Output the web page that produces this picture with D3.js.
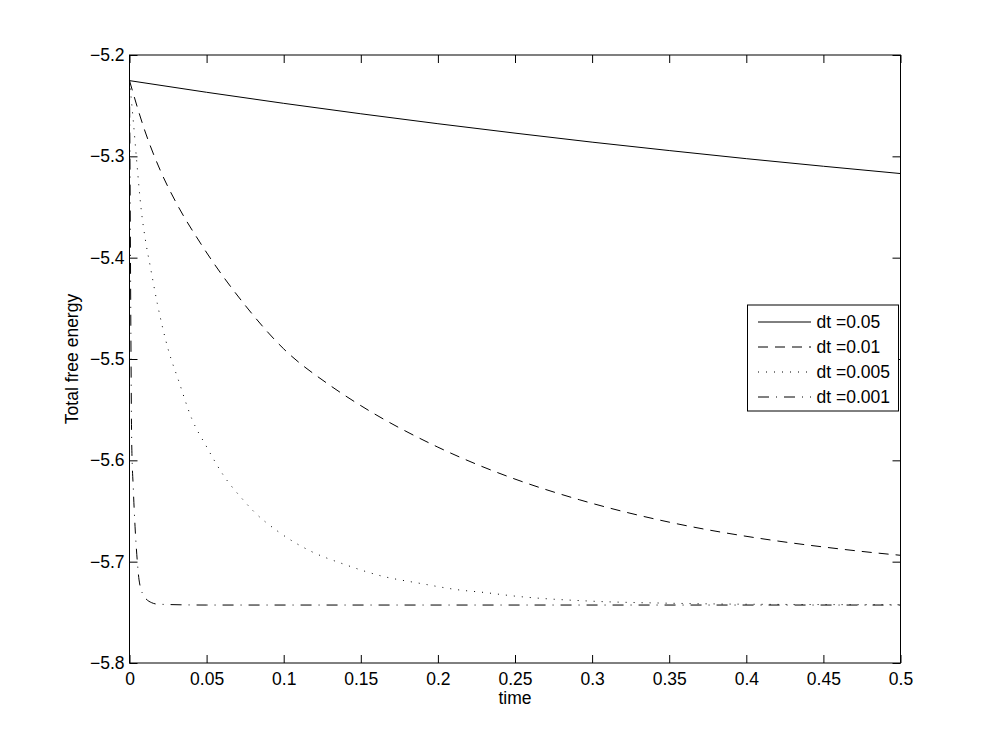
<!DOCTYPE html>
<html>
<head>
<meta charset="utf-8">
<script src="https://cdn.jsdelivr.net/npm/d3@7"></script>
<style>
  body { margin: 0; background: #fff; }
  text { font-family: "Liberation Sans", Arial, sans-serif; }
</style>
</head>
<body>
<div id="chart"></div>
<script>
// values
var t_dt05 = [0, 0.05, 0.1, 0.15, 0.2, 0.25, 0.3, 0.35, 0.4, 0.45, 0.5];
var e_dt05 = [-5.2253, -5.2368, -5.2477, -5.2580, -5.2678, -5.2771, -5.2860, -5.2943, -5.3023, -5.3098, -5.3170];

var t_dt01 = [0, 0.01, 0.02, 0.03, 0.047, 0.075, 0.1, 0.13, 0.15, 0.2, 0.228, 0.25, 0.292, 0.35, 0.4175, 0.45, 0.485, 0.5];
var e_dt01 = [-5.2253, -5.275, -5.314, -5.345, -5.388, -5.447, -5.490, -5.526, -5.546, -5.587, -5.6057, -5.6185, -5.639, -5.661, -5.679, -5.6855, -5.6915, -5.6937];

var t_dt005 = [0, 0.0025, 0.0047, 0.0075, 0.0105, 0.0133, 0.018, 0.0252, 0.0317, 0.0403, 0.05, 0.0608, 0.0738, 0.0803, 0.0965, 0.118, 0.1387, 0.1636, 0.1884, 0.2143, 0.2294, 0.25, 0.3, 0.35, 0.4, 0.5];
var e_dt005 = [-5.2253, -5.2658, -5.3053, -5.3513, -5.3842, -5.4073, -5.445, -5.4911, -5.5207, -5.5586, -5.5866, -5.6145, -5.6392, -5.650, -5.6704, -5.690, -5.7023, -5.7142, -5.7214, -5.728, -5.7303, -5.734, -5.739, -5.741, -5.742, -5.7425];

var t_dt001 = [0, 0.0003, 0.0007, 0.001, 0.0014, 0.0025, 0.0036, 0.005, 0.0062, 0.009, 0.0144, 0.0187, 0.05, 0.5];
var e_dt001 = [-5.2253, -5.30, -5.42, -5.50, -5.58, -5.629, -5.6655, -5.6984, -5.718, -5.733, -5.7405, -5.742, -5.7428, -5.7428];

var legendLabels = ["dt =0.05", "dt =0.01", "dt =0.005", "dt =0.001"];
var xTicks = [0, 0.05, 0.1, 0.15, 0.2, 0.25, 0.3, 0.35, 0.4, 0.45, 0.5];
var yTicks = [-5.8, -5.7, -5.6, -5.5, -5.4, -5.3, -5.2];

var width = 995, height = 746;
var margin = {top: 55, right: 94.5, bottom: 83, left: 129.5};
var w = width - margin.left - margin.right;
var h = height - margin.top - margin.bottom;
var fs = "17.5px";

var svg = d3.select("#chart").append("svg")
    .attr("width", width)
    .attr("height", height);

var g = svg.append("g")
    .attr("transform", "translate(" + margin.left + "," + margin.top + ")");

var x = d3.scaleLinear().domain([0, 0.5]).range([0, w]);
var y = d3.scaleLinear().domain([-5.8, -5.2]).range([h, 0]);

var fmtY = function(d) { return d3.format(".1f")(d).replace("-", "\u2212"); };
var fmtX = function(d) { return d === 0 ? "0" : String(+d.toFixed(2)); };

// axes, ticks pointing inward, mirrored on top/right
var xAxis = g.append("g").attr("transform", "translate(0," + h + ")")
    .call(d3.axisBottom(x).tickValues(xTicks).tickSize(-8).tickPadding(10).tickFormat(fmtX));
var yAxis = g.append("g")
    .call(d3.axisLeft(y).tickValues(yTicks).tickSize(-8).tickPadding(5).tickFormat(fmtY));
var xTop = g.append("g")
    .call(d3.axisTop(x).tickValues(xTicks).tickSize(-8).tickFormat(""));
var yRight = g.append("g").attr("transform", "translate(" + w + ",0)")
    .call(d3.axisRight(y).tickValues(yTicks).tickSize(-8).tickFormat(""));

[xAxis, yAxis, xTop, yRight].forEach(function(a) {
  a.select(".domain").remove();
  a.selectAll("line").attr("stroke", "#000").attr("stroke-width", 1);
  a.selectAll("text").attr("fill", "#000").style("font-size", fs);
});
xAxis.selectAll("text").attr("dy", "0.71em");

g.append("rect")
    .attr("width", w).attr("height", h)
    .attr("fill", "none").attr("stroke", "#000").attr("stroke-width", 1);

var line = d3.line()
    .curve(d3.curveMonotoneX)
    .x(function(d) { return x(d[0]); })
    .y(function(d) { return y(d[1]); });

var series = [
  {t: t_dt05, e: e_dt05, dash: null},
  {t: t_dt01, e: e_dt01, dash: "10,7"},
  {t: t_dt005, e: e_dt005, dash: "1,7"},
  {t: t_dt001, e: e_dt001, dash: "11,7,1,7"}
];

series.forEach(function(s) {
  var pts = s.t.map(function(t, i) { return [t, s.e[i]]; });
  g.append("path")
      .attr("d", line(pts))
      .attr("fill", "none")
      .attr("stroke", "#000")
      .attr("stroke-width", 1)
      .attr("stroke-dasharray", s.dash);
});

// axis labels
g.append("text")
    .attr("x", w / 2).attr("y", h + 41)
    .attr("text-anchor", "middle")
    .style("font-size", fs)
    .text("time");

g.append("text")
    .attr("transform", "translate(" + (-52) + "," + (h / 2) + ") rotate(-90)")
    .attr("text-anchor", "middle")
    .style("font-size", fs)
    .text("Total free energy");

// legend
var lg = svg.append("g").attr("transform", "translate(747.5,305)");
lg.append("rect")
    .attr("width", 151).attr("height", 106)
    .attr("fill", "#fff").attr("stroke", "#000").attr("stroke-width", 1);

legendLabels.forEach(function(lab, i) {
  var yy = 17 + i * 25;
  lg.append("line")
      .attr("x1", 10.5).attr("x2", 63.5)
      .attr("y1", yy).attr("y2", yy)
      .attr("stroke", "#000").attr("stroke-width", 1)
      .attr("stroke-dasharray", series[i].dash);
  lg.append("text")
      .attr("x", 69).attr("y", yy)
      .attr("dy", "0.35em")
      .style("font-size", fs)
      .text(lab);
});
</script>
</body>
</html>
